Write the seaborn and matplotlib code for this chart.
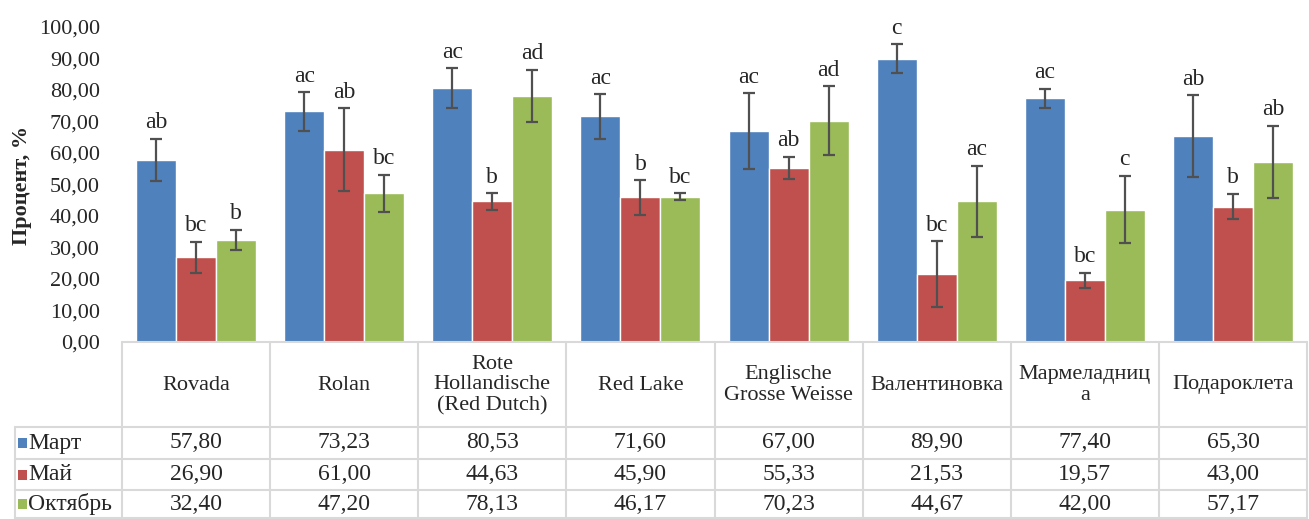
import numpy as np
import pandas as pd
import matplotlib
matplotlib.use("Agg")
import matplotlib.pyplot as plt
import matplotlib.transforms as mtransforms
from matplotlib.patches import Rectangle
import seaborn as sns

# данные
cultivars = ["Rovada", "Rolan", "Rote\nHollandische\n(Red Dutch)", "Red Lake",
             "Englische\nGrosse Weisse", "Валентиновка", "Мармеладниц\nа", "Подароклета"]
months = ["Март", "Май", "Октябрь"]
mart = [57.80, 73.23, 80.53, 71.60, 67.00, 89.90, 77.40, 65.30]
mai = [26.90, 61.00, 44.63, 45.90, 55.33, 21.53, 19.57, 43.00]
okt = [32.40, 47.20, 78.13, 46.17, 70.23, 44.67, 42.00, 57.17]
err_mart = [6.8, 6.1, 6.4, 7.1, 12.0, 4.6, 3.0, 13.0]
err_mai = [5.0, 13.2, 2.6, 5.5, 3.5, 10.5, 2.4, 4.0]
err_okt = [3.2, 5.9, 8.3, 1.1, 11.0, 11.2, 10.7, 11.5]
let_mart = ["ab", "ac", "ac", "ac", "ac", "c", "ac", "ab"]
let_mai = ["bc", "ab", "b", "b", "ab", "bc", "bc", "b"]
let_okt = ["b", "bc", "ad", "bc", "ad", "ac", "c", "ab"]

colors = ["#4F81BD", "#C0504D", "#9BBB59"]
values = [mart, mai, okt]
errors = [err_mart, err_mai, err_okt]
letters = [let_mart, let_mai, let_okt]

df = pd.DataFrame({
    "cultivar": cultivars * 3,
    "month": np.repeat(months, len(cultivars)),
    "value": mart + mai + okt,
})

sns.set_style("white")
plt.rcParams["font.family"] = ["Liberation Serif", "DejaVu Serif"]

fig = plt.figure(figsize=(13.09, 5.19), dpi=100)
ax = fig.add_axes([122 / 1309, (519 - 342) / 519, (1307 - 122) / 1309, (342 - 27) / 519])

sns.barplot(data=df, x="cultivar", y="value", hue="month", hue_order=months,
            order=cultivars, palette=colors, saturation=1, width=0.81, edgecolor="white",
            linewidth=1, errorbar=None, legend=False, ax=ax)

# планки погрешностей и буквы
for cont, errs, lets in zip(ax.containers, errors, letters):
    for bar, e, t in zip(cont, errs, lets):
        xc = bar.get_x() + bar.get_width() / 2
        h = bar.get_height()
        ax.errorbar(xc, h, yerr=e, color="#505050", lw=1.6, capsize=4, capthick=1.6)
        ax.annotate(t, (xc, h + e), xytext=(0, 4), textcoords="offset points",
                    ha="center", va="bottom", fontsize=17)

ax.set_xlim(-0.5, len(cultivars) - 0.5)
ax.set_ylim(0, 100)
ax.set_yticks(np.arange(0, 101, 10))
ax.set_yticklabels([f"{v:.2f}".replace(".", ",") for v in np.arange(0, 101, 10)], fontsize=16)
ax.tick_params(axis="y", length=0, pad=16)
ax.set_xticks([])
ax.set_xlabel("")
ax.set_ylabel("")
for s in ax.spines.values():
    s.set_visible(False)
fig.text(22 / 1309, 1 - 185 / 519, "Процент, %", rotation=90, ha="center", va="center",
         fontsize=16, fontweight="bold")

# таблица данных
tr = mtransforms.blended_transform_factory(ax.transData, ax.transAxes)
axh = 342 - 27
def ya(py):
    return (342 - py) / axh

gc = "#D9D9D9"
left = -0.5 - 107 / 148
right = len(cultivars) - 0.5
rows = [342, 427, 459, 490, 518]
for i, py in enumerate(rows):
    x0 = -0.5 if i == 0 else left
    ax.plot([x0, right], [ya(py)] * 2, color=gc, lw=1.5, transform=tr, clip_on=False)
for k in range(len(cultivars) + 1):
    ax.plot([k - 0.5] * 2, [ya(342), ya(518)], color=gc, lw=1.5, transform=tr, clip_on=False)
ax.plot([left] * 2, [ya(427), ya(518)], color=gc, lw=1.5, transform=tr, clip_on=False)

for k, name in enumerate(cultivars):
    ax.text(k, ya(385), name, ha="center", va="center", fontsize=16,
            linespacing=1.1, transform=tr, clip_on=False)
for r, (m, vals) in enumerate(zip(months, values)):
    yc = ya((rows[r + 1] + rows[r + 2]) / 2)
    for k, v in enumerate(vals):
        ax.text(k, yc, f"{v:.2f}".replace(".", ","), ha="center", va="center",
                fontsize=17, transform=tr, clip_on=False)
    ax.add_patch(Rectangle((left + 3 / 148, yc - 5 / axh), 9 / 148, 10 / axh,
                           facecolor=colors[r], edgecolor="none", transform=tr, clip_on=False))
    ax.text(left + 13 / 148, yc, m, ha="left", va="center", fontsize=17,
            transform=tr, clip_on=False)

fig.savefig("out.png", dpi=100)
